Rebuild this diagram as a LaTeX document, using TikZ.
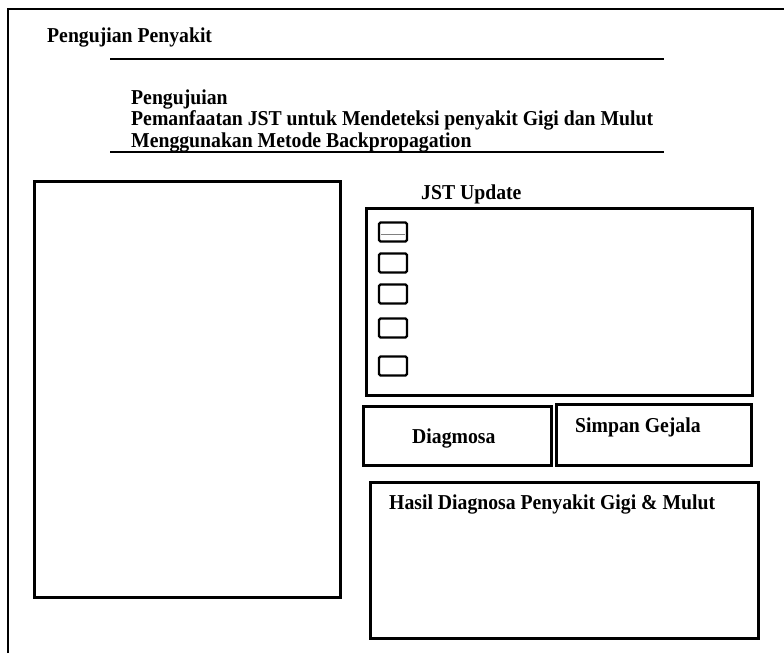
\documentclass[tikz,border=0pt]{standalone}
\usepackage{fontspec}
\setmainfont{Liberation Serif}[BoldFeatures={FakeStretch=0.93}]
\begin{document}
\begin{tikzpicture}[x=1pt,y=-1pt,
  frame/.style={draw=black,line width=2.6pt},
  rule/.style={draw=black,line width=2.8pt},
  panel/.style={draw=black,line width=2.7pt,anchor=north west,inner sep=0pt},
  tick/.style={draw=black,line width=2.4pt,rounded corners=1.5pt,anchor=center,inner sep=0pt,minimum width=28pt,minimum height=19pt},
  lbl/.style={anchor=base west,inner sep=0pt,font=\fontsize{21.2}{24}\selectfont\bfseries}]
\useasboundingbox (0,0) rectangle (784,653);
% outer window frame (open to the right and bottom)
\draw[frame] (8,653) -- (8,9) -- (784,9);
% title and heading block
\node[lbl] (title) at (47,42) {Pengujian Penyakit};
\coordinate (r1a) at (110,59);
\coordinate (r1b) at (664,59);
\draw[rule] (r1a) -- (r1b);
\node[lbl] (h1) at (131,104) {Pengujuian};
\node[lbl] (h2) at (131,125) {Pemanfaatan JST untuk Mendeteksi penyakit Gigi dan Mulut};
\node[lbl] (h3) at (131,147) {Menggunakan Metode Backpropagation};
\coordinate (r2a) at (110,152);
\coordinate (r2b) at (664,152);
\draw[rule] (r2a) -- (r2b);
% left list panel
\node[panel,minimum width=306pt,minimum height=416pt] (list) at (33,180) {};
% JST update panel with check boxes
\node[lbl] (jst) at (421,199) {JST Update};
\node[panel,minimum width=386pt,minimum height=187pt] (upd) at (365,207) {};
\foreach \i/\yy in {1/232,2/263,3/294,4/328,5/366}
  \node[tick] (cb\i) at (393,\yy) {};
\draw[line width=0.6pt,gray] ([xshift=3pt,yshift=-2pt]cb1.west) -- ([xshift=-3pt,yshift=-2pt]cb1.east);
% buttons
\node[panel,minimum width=188pt,minimum height=59pt] (diag) at (362,405) {};
\node[lbl] (diagt) at (412,443) {Diagmosa};
\node[panel,minimum width=195pt,minimum height=61pt] (simp) at (555,403) {};
\node[lbl] (simpt) at (575,432) {Simpan Gejala};
% result panel
\node[panel,minimum width=388pt,minimum height=156pt] (hasil) at (369,481) {};
\node[lbl] (hasilt) at (389,509) {Hasil Diagnosa Penyakit Gigi \& Mulut};
\end{tikzpicture}
\end{document}
